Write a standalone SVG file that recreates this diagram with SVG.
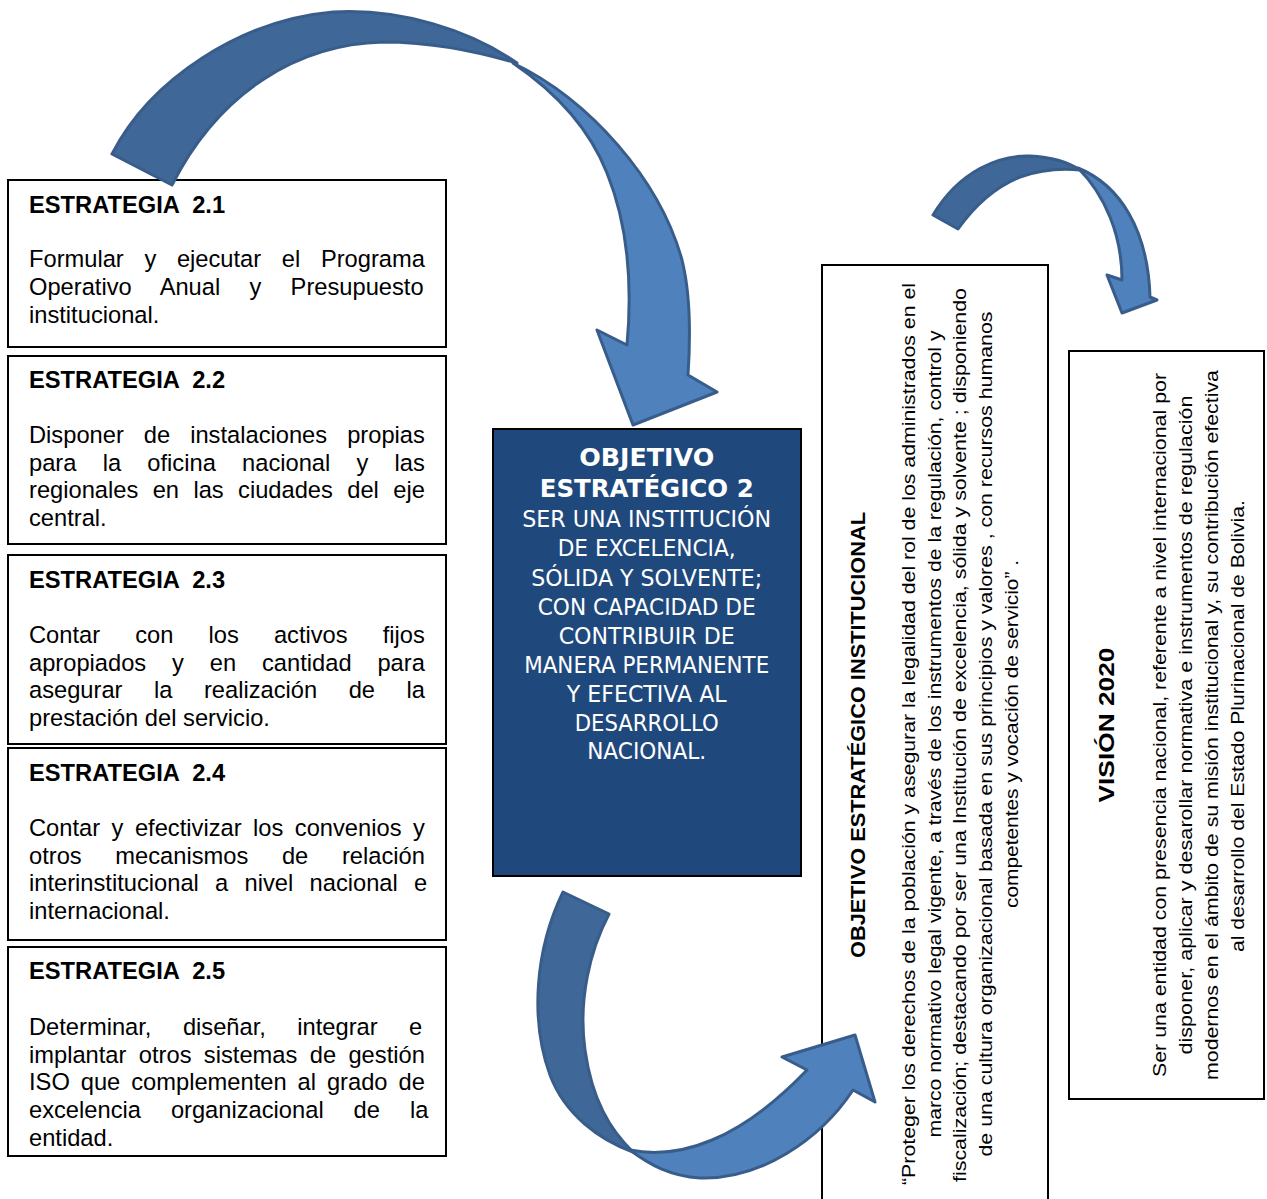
<svg xmlns="http://www.w3.org/2000/svg" width="1267" height="1199" viewBox="0 0 1267 1199">
<style>
.box{fill:#fff;stroke:#000;stroke-width:2}
.h{font-family:"Liberation Sans",Arial,sans-serif;font-size:23.7px;font-weight:bold;fill:#000}
.b{font-family:"Liberation Sans",Arial,sans-serif;font-size:23.7px;fill:#000}
.cb{font-family:"DejaVu Sans",Tahoma,sans-serif;fill:#fff;text-anchor:middle}
.cb1{font-size:25px;font-weight:bold}
.cb2{font-size:22.5px}
.rt{font-family:"Liberation Sans Narrow","Liberation Sans",Arial,sans-serif;font-size:18px;fill:#000;text-anchor:middle}
.rh{font-family:"Liberation Sans Narrow","Liberation Sans",Arial,sans-serif;font-weight:bold;fill:#000;text-anchor:middle}
.dark{fill:#3F6797;stroke:#385D8A;stroke-width:3;stroke-linejoin:round}
.light{fill:#4F81BD;stroke:#385D8A;stroke-width:3;stroke-linejoin:round}
</style>
<rect width="1267" height="1199" fill="#fff"/>

<g id="estrategia-2-1">
<rect class="box" x="8" y="180" width="438" height="167"/>
<text class="h" x="29" y="213" xml:space="preserve">ESTRATEGIA  2.1</text>
<text class="b" x="29" y="267" word-spacing="14.06">Formular y ejecutar el Programa</text>
<text class="b" x="29" y="295" word-spacing="22.68">Operativo Anual y Presupuesto</text>
<text class="b" x="29" y="323">institucional.</text>
</g>

<g id="estrategia-2-2">
<rect class="box" x="8" y="356" width="438" height="188"/>
<text class="h" x="29" y="388" xml:space="preserve">ESTRATEGIA  2.2</text>
<text class="b" x="29" y="443" word-spacing="13.44">Disponer de instalaciones propias</text>
<text class="b" x="29" y="471" word-spacing="19.66">para la oficina nacional y las</text>
<text class="b" x="29" y="498" word-spacing="7.8">regionales en las ciudades del eje</text>
<text class="b" x="29" y="526">central.</text>
</g>

<g id="estrategia-2-3">
<rect class="box" x="8" y="555" width="438" height="189"/>
<text class="h" x="29" y="588" xml:space="preserve">ESTRATEGIA  2.3</text>
<text class="b" x="29" y="643" word-spacing="28.53">Contar con los activos fijos</text>
<text class="b" x="29" y="671" word-spacing="19.29">apropiados y en cantidad para</text>
<text class="b" x="29" y="698" word-spacing="24.91">asegurar la realización de la</text>
<text class="b" x="29" y="726">prestación del servicio.</text>
</g>

<g id="estrategia-2-4">
<rect class="box" x="8" y="748" width="438" height="192"/>
<text class="h" x="29" y="781" xml:space="preserve">ESTRATEGIA  2.4</text>
<text class="b" x="29" y="836" word-spacing="4.91">Contar y efectivizar los convenios y</text>
<text class="b" x="29" y="864" word-spacing="27.08">otros mecanismos de relación</text>
<text class="b" x="29" y="891" word-spacing="9.69">interinstitucional a nivel nacional e</text>
<text class="b" x="29" y="919">internacional.</text>
</g>

<g id="estrategia-2-5">
<rect class="box" x="8" y="947" width="438" height="209"/>
<text class="h" x="29" y="979" xml:space="preserve">ESTRATEGIA  2.5</text>
<text class="b" x="29" y="1035" word-spacing="24.88">Determinar, diseñar, integrar e</text>
<text class="b" x="29" y="1063" word-spacing="5.81">implantar otros sistemas de gestión</text>
<text class="b" x="29" y="1090" word-spacing="4.37">ISO que complementen al grado de</text>
<text class="b" x="29" y="1118" word-spacing="23.38">excelencia organizacional de la</text>
<text class="b" x="29" y="1146">entidad.</text>
</g>

<g id="objetivo-estrategico-2">
<rect x="493" y="429" width="308" height="447" fill="#1F497D" stroke="#000" stroke-width="2"/>
<text class="cb cb1" x="646.7" y="466" textLength="135" lengthAdjust="spacingAndGlyphs">OBJETIVO</text>
<text class="cb cb1" x="646.7" y="497" textLength="214" lengthAdjust="spacingAndGlyphs">ESTRATÉGICO 2</text>
<text class="cb cb2" x="646.7" y="527" textLength="249" lengthAdjust="spacingAndGlyphs">SER UNA INSTITUCIÓN</text>
<text class="cb cb2" x="646.7" y="556" textLength="178" lengthAdjust="spacingAndGlyphs">DE EXCELENCIA,</text>
<text class="cb cb2" x="646.7" y="586" textLength="231" lengthAdjust="spacingAndGlyphs">SÓLIDA Y SOLVENTE;</text>
<text class="cb cb2" x="646.7" y="615" textLength="218" lengthAdjust="spacingAndGlyphs">CON CAPACIDAD DE</text>
<text class="cb cb2" x="646.7" y="644" textLength="176" lengthAdjust="spacingAndGlyphs">CONTRIBUIR DE</text>
<text class="cb cb2" x="646.7" y="673" textLength="245" lengthAdjust="spacingAndGlyphs">MANERA PERMANENTE</text>
<text class="cb cb2" x="646.7" y="702" textLength="160" lengthAdjust="spacingAndGlyphs">Y EFECTIVA AL</text>
<text class="cb cb2" x="646.7" y="731" textLength="144" lengthAdjust="spacingAndGlyphs">DESARROLLO</text>
<text class="cb cb2" x="646.7" y="759" textLength="119" lengthAdjust="spacingAndGlyphs">NACIONAL.</text>
</g>

<g id="objetivo-estrategico-institucional">
<rect x="822" y="265" width="226" height="950" fill="#fff" stroke="#000" stroke-width="2"/>
<text class="rh" font-size="20" transform="translate(865,735) rotate(-90)" textLength="446" lengthAdjust="spacingAndGlyphs">OBJETIVO ESTRATÉGICO INSTITUCIONAL</text>
<text class="rt" transform="translate(915,734) rotate(-90)" textLength="902" lengthAdjust="spacingAndGlyphs">“Proteger los derechos de la población y asegurar la legalidad del rol de los administrados en el</text>
<text class="rt" transform="translate(941,734) rotate(-90)" textLength="807" lengthAdjust="spacingAndGlyphs">marco normativo legal vigente, a través de los instrumentos de la regulación, control y</text>
<text class="rt" transform="translate(966,735) rotate(-90)" textLength="894" lengthAdjust="spacingAndGlyphs">fiscalización; destacando por ser una Institución de excelencia, sólida y solvente ; disponiendo</text>
<text class="rt" transform="translate(992,734) rotate(-90)" textLength="845" lengthAdjust="spacingAndGlyphs">de una cultura organizacional basada en sus principios y valores , con recursos humanos</text>
<text class="rt" transform="translate(1018,734) rotate(-90)" textLength="348" lengthAdjust="spacingAndGlyphs">competentes y vocación de servicio” .</text>
</g>

<g id="vision-2020">
<rect x="1069" y="351" width="195" height="748" fill="#fff" stroke="#000" stroke-width="2"/>
<text class="rh" font-size="22" transform="translate(1114,725) rotate(-90)" textLength="155" lengthAdjust="spacingAndGlyphs">VISIÓN 2020</text>
<text class="rt" transform="translate(1166,725) rotate(-90)" textLength="704" lengthAdjust="spacingAndGlyphs">Ser una entidad con presencia nacional, referente a nivel internacional por</text>
<text class="rt" transform="translate(1192,725) rotate(-90)" textLength="659" lengthAdjust="spacingAndGlyphs">disponer, aplicar y desarollar normativa e instrumentos de regulación</text>
<text class="rt" transform="translate(1218,725) rotate(-90)" textLength="710" lengthAdjust="spacingAndGlyphs">modernos en el ámbito de su misión institucional y, su contribución efectiva</text>
<text class="rt" transform="translate(1244,726) rotate(-90)" textLength="452" lengthAdjust="spacingAndGlyphs">al desarrollo del Estado Plurinacional de Bolivia.</text>
</g>

<g id="connectors">
<g id="arrow-estrategias-to-objetivo">
<path class="dark" d="M112,154 C150,80 240,20 333,12 C400,8 470,30 517,63 C470,50 430,42 383,42 C300,44 220,90 172,185 Z"/>
<path class="light" d="M513,63 C590,100 660,180 682,260 C692,300 690,345 688,375 L717,392 L633,425 L597,330 L627,345 C632,290 630,230 607,173 C590,130 560,95 513,63 Z"/>
</g>
<g id="arrow-objetivo-to-oei">
<path class="dark" d="M563,892 L609,914 C590,950 578,1000 585,1050 C592,1100 610,1130 633,1152 C600,1140 565,1115 550,1075 C530,1020 535,950 563,892 Z"/>
<path class="light" d="M630,1150 C680,1160 740,1140 807,1070 L782,1057 L855,1035 L875,1102 L853,1090 C820,1140 760,1180 700,1178 C670,1176 650,1165 630,1150 Z"/>
</g>
<g id="arrow-oei-to-vision">
<path class="dark" d="M933,215 C960,170 1000,155 1030,156 C1050,157 1068,162 1080,170 C1060,168 1040,170 1020,177 C995,187 975,205 958,229 Z"/>
<path class="light" d="M1078,168 C1120,185 1148,230 1150,297 L1157,300 L1122,313 L1107,275 L1122,280 C1122,235 1105,195 1078,168 Z"/>
</g>
</g>
</svg>
